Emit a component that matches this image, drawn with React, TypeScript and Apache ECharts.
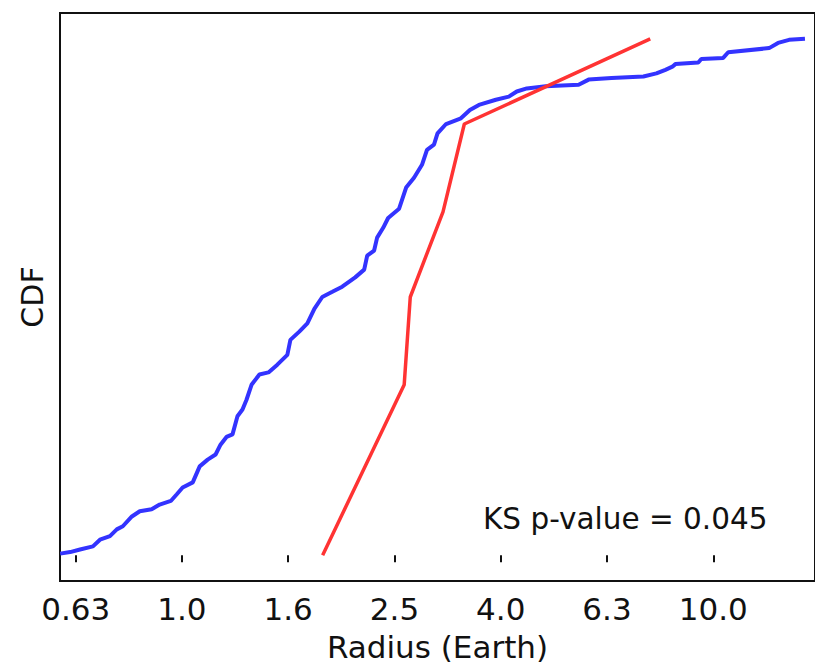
import { useEffect, useRef } from "react";
import * as echarts from "echarts";

// Observed planet radii (Earth radii) and their empirical CDF (blue)
const BLUE_RADIUS = [
  0.590, 0.616, 0.643, 0.680, 0.701, 0.732, 0.754, 0.774, 0.805, 0.833,
  0.877, 0.908, 0.953, 0.978, 1.003, 1.048, 1.080, 1.118, 1.157, 1.182,
  1.213, 1.245, 1.272, 1.300, 1.323, 1.352, 1.399, 1.455, 1.512, 1.579,
  1.600, 1.663, 1.722, 1.775, 1.837, 1.919, 2.003, 2.119, 2.203, 2.232,
  2.300, 2.330, 2.392, 2.444, 2.563, 2.642, 2.734, 2.830, 2.892, 2.981,
  3.027, 3.141, 3.350, 3.483, 3.622, 3.898, 4.123, 4.268, 4.457, 4.838,
  5.580, 5.827, 6.436, 7.389, 7.816, 8.127, 8.377, 8.486, 9.372, 9.495,
  10.44, 10.67, 12.74, 13.24, 13.89, 14.88,
];
const BLUE_CDF = [
  0.003, 0.006, 0.011, 0.017, 0.030, 0.037, 0.050, 0.056, 0.075, 0.085,
  0.089, 0.098, 0.105, 0.118, 0.131, 0.141, 0.172, 0.185, 0.195, 0.214,
  0.229, 0.234, 0.269, 0.282, 0.301, 0.330, 0.350, 0.354, 0.369, 0.388,
  0.417, 0.433, 0.449, 0.477, 0.500, 0.510, 0.520, 0.538, 0.553, 0.580,
  0.590, 0.615, 0.634, 0.653, 0.671, 0.712, 0.731, 0.756, 0.785, 0.795,
  0.817, 0.835, 0.846, 0.862, 0.872, 0.882, 0.888, 0.898, 0.904, 0.908,
  0.911, 0.921, 0.924, 0.927, 0.933, 0.940, 0.946, 0.951, 0.954, 0.961,
  0.963, 0.974, 0.982, 0.992, 0.998, 1.0,
];

// Comparison sample (red)
const RED_RADIUS = [1.84, 2.62, 2.69, 3.10, 3.40, 7.61];
const RED_CDF = [0.0, 0.33, 0.5, 0.665, 0.835, 1.0];

// X axis ticks (log10 of radius) and their labels
const TICK_LOG = [-0.2, 0, 0.2, 0.4, 0.6, 0.8, 1.0];
const TICK_LABELS = ["0.63", "1.0", "1.6", "2.5", "4.0", "6.3", "10.0"];

const X_MIN = -0.2295;
const X_MAX = 1.1915;

const KS_TEXT = "KS p-value = 0.045";
const FONT = "DejaVu Sans";

export default function App() {
  const ref = useRef<HTMLDivElement>(null);

  useEffect(() => {
    document.body.style.margin = "0";
    document.body.style.overflow = "hidden";
    if (!ref.current) return;
    const chart = echarts.init(ref.current, undefined, { renderer: "svg" });

    const blue = BLUE_RADIUS.map((r, i) => [Math.log10(r), BLUE_CDF[i]]);
    const red = RED_RADIUS.map((r, i) => [Math.log10(r), RED_CDF[i]]);

    chart.setOption({
      animation: false,
      backgroundColor: "#ffffff",
      grid: {
        left: 60,
        right: -2,
        top: 13,
        bottom: 85.5,
        show: true,
        borderColor: "#111",
        borderWidth: 2,
        backgroundColor: "transparent",
      },
      xAxis: {
        type: "value",
        min: X_MIN,
        max: X_MAX,
        name: "Radius (Earth)",
        nameLocation: "middle",
        nameGap: 50,
        nameTextStyle: { fontFamily: FONT, fontSize: 31, color: "#111" },
        axisLine: { show: false },
        splitLine: { show: false },
        axisTick: {
          show: true,
          customValues: TICK_LOG,
          length: 7,
          lineStyle: { color: "#111", width: 2 },
        },
        axisLabel: {
          show: true,
          customValues: TICK_LOG,
          margin: 12,
          fontFamily: FONT,
          fontSize: 31,
          color: "#111",
          formatter: (v: number) => {
            const idx = TICK_LOG.findIndex((t) => Math.abs(t - v) < 1e-6);
            return idx >= 0 ? TICK_LABELS[idx] : "";
          },
        },
      },
      yAxis: {
        type: "value",
        min: -0.05,
        max: 1.05,
        name: "CDF",
        nameLocation: "middle",
        nameGap: 13,
        nameRotate: 90,
        nameTextStyle: { fontFamily: FONT, fontSize: 30, color: "#111" },
        axisLine: { show: false },
        axisTick: { show: false },
        axisLabel: { show: false },
        splitLine: { show: false },
      },
      graphic: [
        {
          type: "text",
          x: 483,
          y: 519,
          style: {
            text: KS_TEXT,
            fontFamily: FONT,
            fontSize: 29.5,
            fill: "#111",
            textAlign: "left",
            textVerticalAlign: "middle",
          },
        },
      ],
      series: [
        {
          type: "line",
          data: blue,
          showSymbol: false,
          symbol: "none",
          lineStyle: { color: "#3333ff", width: 4 },
          z: 3,
        },
        {
          type: "line",
          data: red,
          showSymbol: false,
          symbol: "none",
          lineStyle: { color: "#ff3333", width: 3.5 },
          z: 4,
        },
      ],
    });

    return () => chart.dispose();
  }, []);

  return <div ref={ref} style={{ width: 815, height: 667 }} />;
}
